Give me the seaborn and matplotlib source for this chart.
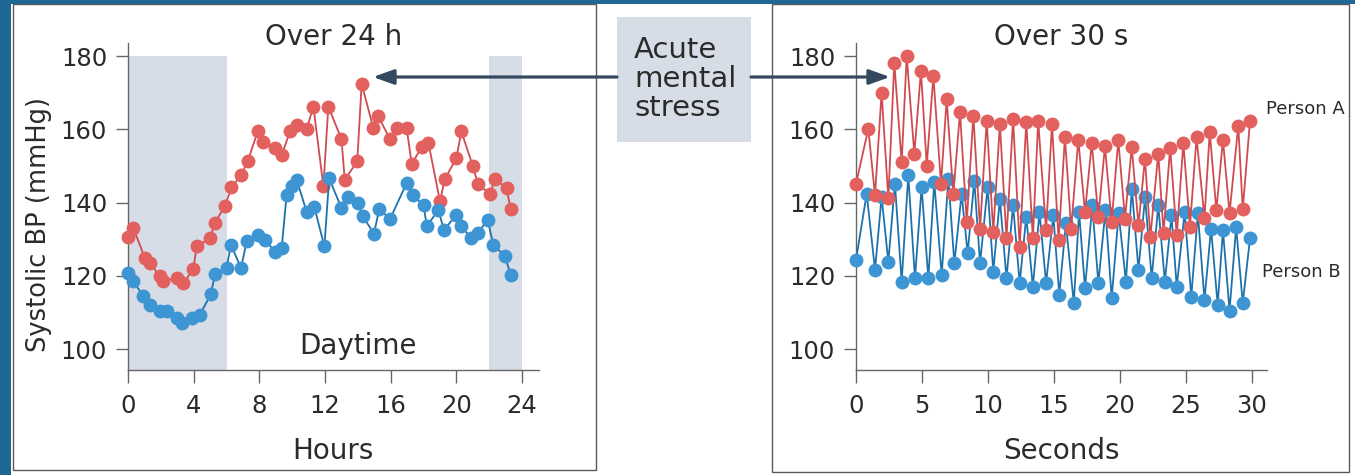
import numpy as np
import pandas as pd
import matplotlib
matplotlib.use("Agg")
import matplotlib.pyplot as plt
import seaborn as sns
from matplotlib.patches import Rectangle, FancyArrowPatch, ArrowStyle

# ---- Systolic BP over 24 h (hours, mmHg) ----
day_hours_a = [0, 0.33, 1.03, 1.34, 1.95, 2.15, 2.96, 3.37, 3.98, 4.18, 5.0, 5.3,
               5.9, 6.3, 6.9, 7.3, 7.9, 8.2, 8.95, 9.36, 9.87, 10.27, 10.88, 11.29,
               11.9, 12.2, 13.0, 13.2, 13.96, 14.23, 14.94, 15.25, 15.95, 16.36, 16.97, 17.28,
               17.88, 18.3, 19.0, 19.3, 20.0, 20.3, 21.0, 21.3, 22.05, 22.35, 23.06, 23.3]
day_bp_a = [130.7, 133, 124.8, 123.5, 119.8, 118.5, 119.4, 118, 121.8, 128, 130.3, 134.5,
            139, 144.1, 147.5, 151.4, 159.4, 156.6, 154.8, 153, 159.4, 161.2, 160, 166.2,
            144.4, 166.2, 157.3, 146.2, 151.2, 172.4, 160.3, 163.5, 157.3, 160.3, 160.3, 150.5,
            155.1, 156.2, 140.3, 146.5, 152.1, 159.4, 150, 145.1, 142.3, 146.4, 143.9, 138.2]

day_hours_b = [0, 0.33, 0.93, 1.34, 1.95, 2.35, 2.96, 3.27, 3.87, 4.38, 5.05, 5.3,
               6.0, 6.27, 6.88, 7.23, 7.94, 8.34, 8.95, 9.36, 9.66, 9.97, 10.27, 10.88,
               11.34, 11.96, 12.25, 13.0, 13.4, 14.0, 14.3, 14.98, 15.3, 15.96, 16.97, 17.33,
               18.0, 18.2, 18.9, 19.24, 20.0, 20.3, 20.9, 21.3, 21.9, 22.25, 22.96, 23.3]
day_bp_b = [120.7, 118.5, 114.4, 112.1, 110.3, 110.3, 108.5, 107.1, 108.5, 109.4, 115, 120.5,
            122.1, 128.5, 122.1, 129.4, 131.2, 129.8, 126.6, 127.6, 142.1, 144.4, 146.2, 137.5,
            138.9, 128, 146.6, 138.5, 141.6, 140, 136.2, 131.5, 138.2, 135.5, 145.3, 142.1,
            139.2, 133.5, 138, 132.5, 136.6, 133.5, 130.3, 131.6, 135.3, 128.5, 125.3, 120.3]

# ---- Beat-to-beat systolic BP over 30 s: troughs and peaks ----
sec_a_low = [0, 1.44, 2.45, 3.46, 4.42, 5.36, 6.44, 7.37, 8.39, 9.4, 10.4, 11.4, 12.4, 13.4, 14.4,
             15.35, 16.3, 17.35, 18.36, 19.37, 20.38, 21.4, 22.3, 23.3, 24.3, 25.3, 26.4, 27.3, 28.3, 29.3]
bp_a_low = [145.1, 142.0, 141.1, 151.0, 153.3, 150.1, 145.1, 142.2, 134.7, 132.9, 132.0, 130.2, 127.9, 130.2, 132.4,
            129.7, 132.9, 137.4, 136.1, 134.7, 135.6, 133.8, 130.6, 131.7, 131.0, 133.4, 135.8, 137.9, 137.1, 138.1]
sec_a_high = [0.93, 1.94, 2.90, 3.84, 4.92, 5.86, 6.87, 7.88, 8.89, 9.9, 10.9, 11.9, 12.9, 13.8, 14.85,
              15.83, 16.84, 17.86, 18.86, 19.87, 20.89, 21.89, 22.9, 23.8, 24.8, 25.8, 26.8, 27.8, 28.96, 29.85]
bp_a_high = [160.1, 170.0, 178.2, 180.0, 175.9, 174.6, 168.2, 164.6, 163.7, 162.3, 161.4, 162.8, 161.9, 162.3, 161.4,
             157.8, 157.1, 156.2, 155.3, 157.1, 155.1, 151.9, 153.3, 154.9, 156.2, 157.8, 159.2, 157.1, 161.0, 162.3]

sec_b_low = [0, 1.44, 2.45, 3.46, 4.47, 5.48, 6.49, 7.45, 8.46, 9.4, 10.4, 11.4, 12.4, 13.4, 14.4,
             15.4, 16.5, 17.35, 18.36, 19.37, 20.45, 21.4, 22.4, 23.4, 24.3, 25.4, 26.4, 27.4, 28.3, 29.3]
bp_b_low = [124.3, 121.6, 123.8, 118.4, 119.3, 119.3, 120.2, 123.4, 126.1, 123.4, 121.1, 119.3, 118.0, 117.0, 118.0,
            114.8, 112.5, 116.6, 118.0, 113.9, 118.4, 121.6, 119.3, 118.4, 117.0, 114.3, 113.4, 112.1, 110.5, 112.5]
sec_b_high = [0.81, 1.94, 2.95, 3.96, 4.97, 5.93, 7.0, 8.0, 8.96, 9.97, 10.9, 11.9, 12.9, 13.9, 14.95,
              15.9, 16.9, 17.9, 18.9, 19.9, 20.9, 21.9, 22.9, 23.9, 24.9, 25.9, 26.9, 27.8, 28.8, 29.85]
bp_b_high = [142.4, 141.5, 145.1, 147.4, 144.2, 145.6, 146.5, 142.4, 146.0, 144.2, 141.0, 139.2, 136.1, 137.4, 136.5,
             134.3, 137.4, 139.2, 137.9, 137.0, 143.8, 141.5, 139.2, 136.5, 137.4, 137.0, 132.9, 132.4, 133.3, 130.2]

hour_ticks = [0, 4, 8, 12, 16, 20, 24]
sec_ticks = [0, 5, 10, 15, 20, 25, 30]
bp_ticks = [100, 120, 140, 160, 180]
night_spans = [(0, 6), (22, 24)]

RED_DOT, RED_LINE = "#e2605d", "#cf4b50"
BLUE_DOT, BLUE_LINE = "#3e95d3", "#1d72ac"
SHADE = "#d6dde6"
INK = "#2b2b2b"
AXIS_GREY = "#666666"
FRAME_BLUE = "#1f6894"
ARROW = "#34485f"

sns.set_theme(style="ticks")
plt.rcParams["font.family"] = ["DejaVu Sans"]
plt.rcParams["text.color"] = INK

W, H = 1355, 475
fig = plt.figure(figsize=(W / 100, H / 100), dpi=100)
fig.patch.set_facecolor("white")


def fx(px):
    return px / W


def fy(py):
    return 1 - py / H


def interleave(x_lo, y_lo, x_hi, y_hi):
    x = np.empty(len(x_lo) + len(x_hi))
    y = np.empty_like(x)
    x[0::2], x[1::2] = x_lo, x_hi
    y[0::2], y[1::2] = y_lo, y_hi
    return pd.DataFrame({"t": x, "bp": y})


def draw_series(ax, df, dot, line, z):
    sns.lineplot(data=df, x="t", y="bp", ax=ax, sort=False, color=line, lw=1.3,
                 marker="o", markersize=10, markerfacecolor=dot, markeredgewidth=0,
                 clip_on=False, zorder=z, legend=False)


def style_axis(ax, xlim, xticks):
    ax.set_facecolor("none")
    ax.set_xlim(*xlim)
    ax.set_ylim(94.27, 183.55)
    ax.set_xticks(xticks)
    ax.set_yticks(bp_ticks)
    for side in ("top", "right"):
        ax.spines[side].set_visible(False)
    for side in ("left", "bottom"):
        ax.spines[side].set_color(AXIS_GREY)
        ax.spines[side].set_linewidth(1.0)
    ax.tick_params(axis="both", which="major", direction="out", length=9, width=1.0,
                   color=AXIS_GREY, labelsize=17.5, labelcolor=INK,
                   bottom=True, left=True, top=False, right=False)
    ax.tick_params(axis="x", pad=8)
    ax.tick_params(axis="y", pad=6)
    ax.set_xlabel("")
    ax.set_ylabel("")


ax_day = fig.add_axes([fx(128), fy(370), fx(410.5), 327 / H])
ax_sec = fig.add_axes([fx(856), fy(370), fx(410.5), 327 / H])

# Night-time shading over the 24 h panel
for start, end in night_spans:
    ax_day.fill_between([start, end], 94.27, 180, color=SHADE, lw=0, zorder=0)

day_a = pd.DataFrame({"t": day_hours_a, "bp": day_bp_a})
day_b = pd.DataFrame({"t": day_hours_b, "bp": day_bp_b})
draw_series(ax_day, day_a, RED_DOT, RED_LINE, 3)
draw_series(ax_day, day_b, BLUE_DOT, BLUE_LINE, 4)

sec_a = interleave(sec_a_low, bp_a_low, sec_a_high, bp_a_high)
sec_b = interleave(sec_b_low, bp_b_low, sec_b_high, bp_b_high)
draw_series(ax_sec, sec_b, BLUE_DOT, BLUE_LINE, 3)
draw_series(ax_sec, sec_a, RED_DOT, RED_LINE, 4)

style_axis(ax_day, (0, 25), hour_ticks)
style_axis(ax_sec, (0, 31.1), sec_ticks)

ax_day.set_ylabel("Systolic BP (mmHg)", fontsize=18.5, color=INK)
ax_day.yaxis.set_label_coords((52 - 128) / 410.5, (370 - 225) / 327)
ax_day.set_xlabel("Hours", fontsize=20, color=INK)
ax_day.xaxis.set_label_coords(0.5, (370 - 437) / 327)
ax_sec.set_xlabel("Seconds", fontsize=20, color=INK)
ax_sec.xaxis.set_label_coords(0.5, (370 - 437) / 327)

ax_day.text(0.5, (370 - 37) / 327, "Over 24 h", transform=ax_day.transAxes,
            ha="center", va="center", fontsize=20)
ax_sec.text(0.5, (370 - 37) / 327, "Over 30 s", transform=ax_sec.transAxes,
            ha="center", va="center", fontsize=20)
ax_day.text(14.0, 100.8, "Daytime", ha="center", va="center", fontsize=20)
ax_sec.text(31.1, 165.6, "Person A", ha="left", va="center", fontsize=13)
ax_sec.text(30.76, 121.1, "Person B", ha="left", va="center", fontsize=13)

# Panel frames and page border
for x0, x1, y0, y1 in [(13, 596, 4, 470), (772, 1349, 4, 472)]:
    fig.add_artist(Rectangle((fx(x0), fy(y1)), fx(x1 - x0), (y1 - y0) / H,
                             transform=fig.transFigure, fill=False,
                             edgecolor="#5a5a5a", lw=1.0, zorder=1))
fig.add_artist(Rectangle((0, fy(4)), 1, 4 / H, transform=fig.transFigure,
                         color=FRAME_BLUE, lw=0, zorder=5))
fig.add_artist(Rectangle((0, 0), fx(11), 1, transform=fig.transFigure,
                         color=FRAME_BLUE, lw=0, zorder=5))

# Stress label box with arrows to both panels
fig.add_artist(Rectangle((fx(617), fy(142)), fx(134), 125 / H, transform=fig.transFigure,
                         color=SHADE, lw=0, zorder=6))
fig.text(fx(634), fy(79), "Acute\nmental\nstress", ha="left", va="center",
         fontsize=21, linespacing=1.05, zorder=7)
head = ArrowStyle("-|>", head_length=1.25, head_width=0.45)
for start, end in [(617, 373), (751, 890)]:
    fig.add_artist(FancyArrowPatch((fx(start), fy(77)), (fx(end), fy(77)),
                                   transform=fig.transFigure, arrowstyle=head,
                                   mutation_scale=10, color=ARROW, lw=2.3,
                                   shrinkA=0, shrinkB=0, zorder=6))

fig.savefig("out.png", dpi=100)
